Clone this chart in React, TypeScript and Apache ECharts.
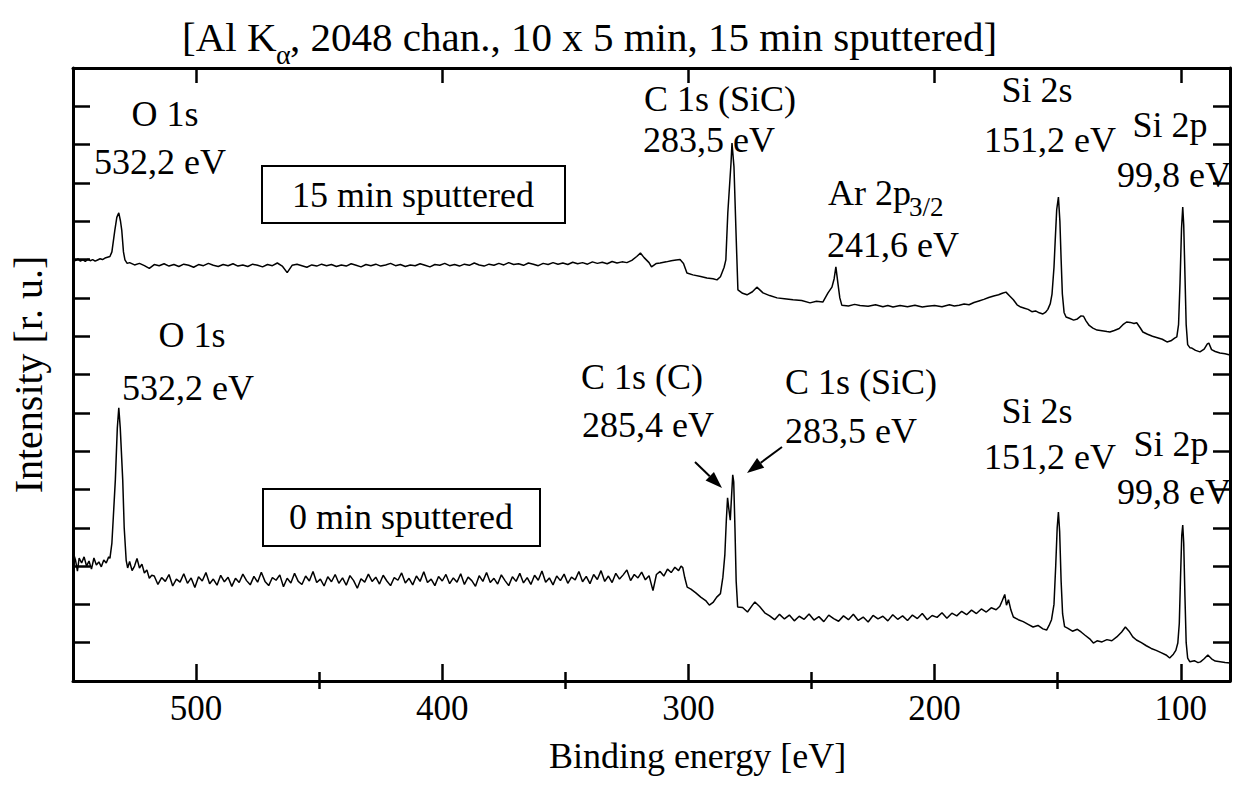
import React, { useEffect, useRef } from "react";
import * as echarts from "echarts";

// Binding energy [eV], intensity [r. u.] (one unit = one y tick)
const sputtered15: [number, number][] = [
  [550, 11.04], [549, 10.97], [548, 11.02], [547, 10.96], [546, 11.0], [545, 10.95], [544, 11.01], [543, 10.97],
  [542, 11.0], [541, 10.96], [540, 10.99], [539, 11.02], [538, 11.0], [537, 11.04], [536, 11.06], [535, 11.08],
  [534.2, 11.2], [533, 11.77], [532.2, 12.1], [531.4, 12.22], [530.7, 12.0], [530.2, 11.77], [529.5, 11.2], [528.9, 10.99],
  [528, 10.9], [527, 10.92], [525, 10.86], [523, 10.9], [521, 10.84], [519, 10.77], [517, 10.87], [515, 10.84],
  [513, 10.89], [511, 10.83], [509, 10.87], [507, 10.82], [505, 10.88], [503, 10.85], [501, 10.8], [499, 10.87],
  [497, 10.84], [495, 10.9], [493, 10.85], [491, 10.82], [489, 10.87], [487, 10.84], [485, 10.89], [483, 10.83],
  [481, 10.86], [479, 10.82], [477, 10.88], [475, 10.85], [473, 10.81], [471, 10.87], [469, 10.84], [467, 10.91],
  [465, 10.83], [463, 10.66], [461, 10.85], [459, 10.88], [457, 10.84], [455, 10.8], [453, 10.86], [451, 10.83],
  [449, 10.88], [447, 10.84], [445, 10.87], [443, 10.82], [441, 10.86], [439, 10.83], [437, 10.89], [435, 10.85],
  [433, 10.81], [431, 10.87], [429, 10.84], [427, 10.88], [425, 10.83], [423, 10.86], [421, 10.9], [419, 10.84],
  [417, 10.87], [415, 10.82], [413, 10.86], [411, 10.84], [409, 10.89], [407, 10.85], [405, 10.81], [403, 10.87],
  [401, 10.85], [399, 10.9], [397, 10.84], [395, 10.87], [393, 10.83], [391, 10.88], [389, 10.85], [387, 10.91],
  [385, 10.86], [383, 10.83], [381, 10.88], [379, 10.85], [377, 10.9], [375, 10.86], [373, 10.92], [371, 10.87],
  [369, 10.89], [367, 10.85], [365, 10.91], [363, 10.88], [361, 10.84], [359, 10.9], [357, 10.87], [355, 10.92],
  [353, 10.88], [351, 10.91], [349, 10.87], [347, 10.93], [345, 10.89], [343, 10.92], [341, 10.88], [339, 10.94],
  [337, 10.9], [335, 10.93], [333, 10.89], [331, 10.95], [329, 10.91], [327, 10.94], [325, 10.92], [323, 10.98],
  [321, 11.08], [319.5, 11.17], [318, 11.05], [316, 10.92], [315, 10.81], [313, 10.9], [311.5, 10.91], [309, 10.94],
  [307, 10.97], [305, 10.99], [303.4, 11.0], [302, 10.9], [300.6, 10.65], [298.2, 10.6], [295, 10.56], [292.5, 10.52],
  [290, 10.5], [288.4, 10.47], [287, 10.55], [286.4, 10.65], [285.5, 10.8], [284.8, 10.99], [284, 12.22], [282.7, 13.52],
  [282.3, 14.04], [281.5, 13.42], [280.7, 11.77], [279.9, 10.21], [278, 10.12], [276.2, 10.08], [274, 10.16], [272.2, 10.28],
  [269.7, 10.13], [267, 10.06], [264, 10.0], [261, 9.98], [257.5, 9.95], [254, 9.93], [250.6, 9.87], [248, 9.91],
  [245.4, 9.89], [243.3, 10.13], [241.7, 10.28], [240.8, 10.5], [240.1, 10.81], [239.3, 10.39], [238.5, 10.0], [237.7, 9.81],
  [235, 9.79], [232.5, 9.83], [230.3, 9.8], [227, 9.78], [224, 9.82], [221, 9.77], [219, 9.8], [216.9, 9.76],
  [214, 9.8], [211, 9.77], [208, 9.81], [205, 9.76], [203, 9.78], [200, 9.8], [197, 9.77], [194, 9.82],
  [192, 9.79], [190, 9.81], [188, 9.84], [186, 9.82], [184, 9.88], [182, 9.92], [180, 9.96], [178, 10.01],
  [176, 10.05], [174, 10.08], [172.5, 10.12], [171, 10.15], [169.5, 10.05], [168, 9.95], [166.5, 9.82], [165, 9.76],
  [163.5, 9.73], [162, 9.7], [160.5, 9.64], [159, 9.66], [157.5, 9.61], [156, 9.58], [155, 9.62], [154, 9.7],
  [153, 9.85], [152.3, 10.1], [151.5, 10.8], [151, 11.5], [150.4, 12.3], [149.7, 12.63], [149.1, 12.0], [148.6, 11.0],
  [148.1, 10.1], [147.4, 9.62], [146.6, 9.5], [145, 9.46], [143.5, 9.42], [142, 9.45], [140.5, 9.53], [139.5, 9.52],
  [138.5, 9.4], [137.2, 9.28], [135.7, 9.21], [134, 9.16], [132, 9.14], [130, 9.12], [128.8, 9.11], [127, 9.15],
  [125, 9.2], [123.5, 9.3], [122, 9.37], [120.5, 9.36], [119, 9.33], [117.9, 9.35], [116.5, 9.22], [115.4, 9.11],
  [113.5, 9.05], [111.5, 9.0], [109.5, 8.96], [107.5, 8.92], [105.6, 8.85], [104, 8.88], [102.5, 8.95], [101.6, 8.98],
  [100.9, 9.3], [100.3, 10.4], [99.7, 11.8], [99.2, 12.37], [98.8, 11.9], [98.3, 10.6], [97.8, 9.3], [97.2, 8.78],
  [96.3, 8.7], [95.5, 8.69], [94, 8.63], [92.2, 8.59], [90.5, 8.66], [89.2, 8.8], [88.6, 8.82], [87.5, 8.65],
  [86, 8.6], [84.1, 8.56], [82, 8.54], [80, 8.51],
];

const sputtered0: [number, number][] = [
  [550, 3.37], [549, 3.16], [548.2, 2.87], [547.5, 3.21], [546.5, 3.08], [545.5, 3.24], [544.5, 3.0], [543.5, 3.13],
  [542.5, 2.92], [541.5, 3.21], [540.5, 3.03], [539.5, 3.11], [538.5, 2.98], [537.5, 3.16], [536.5, 3.08], [535.5, 3.24],
  [535, 3.2], [534.2, 3.6], [533.6, 4.3], [532.8, 5.25], [532, 6.6], [531.4, 7.13], [530.8, 6.6], [529.8, 5.25],
  [529.2, 4.0], [528.4, 3.15], [527.8, 2.95], [527, 3.12], [526, 2.88], [525, 3.0], [524, 3.2], [523, 2.95],
  [522, 3.05], [521, 2.82], [520, 2.9], [519, 2.68], [518, 2.76],
  [517, 2.74], [515.5, 2.52], [514, 2.7], [512.5, 2.6], [511, 2.78], [509.5, 2.48], [508, 2.66], [506.5, 2.58],
  [505, 2.8], [503.5, 2.55], [502, 2.69], [500.5, 2.44], [499, 2.72], [497.5, 2.61], [496, 2.83], [494.5, 2.54],
  [493, 2.66], [491.5, 2.5], [490, 2.76], [488.5, 2.59], [487, 2.71], [485.5, 2.47], [484, 2.68], [482.5, 2.57],
  [481, 2.79], [479.5, 2.62], [478, 2.51], [476.5, 2.73], [475, 2.58], [473.5, 2.84], [472, 2.6], [470.5, 2.49],
  [469, 2.7], [467.5, 2.63], [466, 2.77], [464.5, 2.46], [463, 2.68], [461.5, 2.56], [460, 2.81], [458.5, 2.6],
  [457, 2.52], [455.5, 2.74], [454, 2.61], [452.5, 2.86], [451, 2.57], [449.5, 2.66], [448, 2.48], [446.5, 2.72],
  [445, 2.59], [443.5, 2.78], [442, 2.55], [440.5, 2.69], [439, 2.5], [437.5, 2.75], [436, 2.62], [434.5, 2.42],
  [433, 2.67], [431.5, 2.58], [430, 2.79], [428.5, 2.6], [427, 2.71], [425.5, 2.53], [424, 2.76], [422.5, 2.61],
  [421, 2.49], [419.5, 2.7], [418, 2.63], [416.5, 2.82], [415, 2.56], [413.5, 2.68], [412, 2.51], [410.5, 2.74],
  [409, 2.6], [407.5, 2.85], [406, 2.57], [404.5, 2.66], [403, 2.49], [401.5, 2.73], [400, 2.61], [398.5, 2.78],
  [397, 2.54], [395.5, 2.69], [394, 2.58], [392.5, 2.8], [391, 2.52], [389.5, 2.71], [388, 2.62], [386.5, 2.47],
  [385, 2.75], [383.5, 2.6], [382, 2.83], [380.5, 2.57], [379, 2.68], [377.5, 2.53], [376, 2.77], [374.5, 2.62],
  [373, 2.49], [371.5, 2.72], [370, 2.6], [368.5, 2.81], [367, 2.56], [365.5, 2.7], [364, 2.52], [362.5, 2.76],
  [361, 2.63], [359.5, 2.87], [358, 2.58], [356.5, 2.69], [355, 2.51], [353.5, 2.74], [352, 2.62], [350.5, 2.79],
  [349, 2.55], [347.5, 2.71], [346, 2.64], [344.5, 2.86], [343, 2.59], [341.5, 2.73], [340, 2.54], [338.5, 2.78],
  [337, 2.65], [335.5, 2.88], [334, 2.6], [332.5, 2.74], [331, 2.57], [329.5, 2.81], [328, 2.66], [326.5, 2.77],
  [325, 2.9], [323.5, 2.62], [322, 2.78], [320.5, 2.69], [319, 2.84], [317.5, 2.64], [316, 2.75], [314.4, 2.36],
  [313, 2.78], [311.5, 2.86], [310, 2.74], [308.5, 2.92], [307, 2.83], [305.5, 2.97], [304, 2.88], [303, 3.0],
  [302.3, 2.96], [301.5, 2.7], [300.5, 2.45], [299, 2.4], [297, 2.3], [295, 2.19], [293, 2.1],
  [291.5, 1.98], [290, 2.05], [288.5, 2.19], [287, 2.28], [286, 2.71], [285.2, 3.3], [284.6, 4.2], [284.1, 4.78],
  [283.6, 4.5], [283.0, 4.2], [282.5, 4.8], [282.0, 5.38], [281.6, 5.2], [281.1, 4.0], [280.6, 2.6], [280, 1.93],
  [278, 1.92], [276, 1.8], [274, 1.98], [273, 2.06], [271, 1.94], [269, 1.78], [267, 1.7], [265, 1.6],
  [263, 1.74], [261, 1.62], [259, 1.72], [257, 1.57], [255, 1.69], [253, 1.61], [251, 1.75], [249, 1.59],
  [247, 1.68], [245, 1.55], [243, 1.72], [241, 1.63], [239, 1.56], [237, 1.7], [235, 1.6], [233, 1.74],
  [231, 1.58], [229, 1.67], [227, 1.54], [225, 1.71], [223, 1.62], [221, 1.69], [219, 1.57], [217, 1.73],
  [215, 1.61], [213, 1.7], [211, 1.58], [209, 1.72], [207, 1.63], [205, 1.76], [203, 1.6], [201, 1.71],
  [199, 1.66], [197, 1.78], [195, 1.64], [193, 1.77], [191, 1.7], [189, 1.82], [187, 1.73], [185, 1.85],
  [183, 1.76], [181, 1.88], [179, 1.8], [177, 1.91], [175, 1.86], [173.5, 1.95], [172.5, 2.1], [171.5, 2.26],
  [170.8, 1.98], [170, 2.12], [169, 1.85], [168, 1.67], [166, 1.6], [164, 1.55], [162, 1.48], [160, 1.41],
  [158, 1.45], [156, 1.36], [154.5, 1.33], [153.5, 1.45], [152.5, 1.6], [151.5, 2.0], [150.8, 3.0], [150.2, 4.0],
  [149.7, 4.41], [149.2, 3.9], [148.6, 2.6], [148, 1.75], [147.2, 1.42], [146, 1.38], [144, 1.3], [142, 1.35],
  [140.5, 1.28], [139, 1.2], [137, 1.1], [135.5, 0.99], [134, 1.05], [132, 1.02], [130, 1.08], [128, 1.05],
  [126, 1.15], [124, 1.28], [122.5, 1.41], [121, 1.3], [119.5, 1.15], [118, 1.07], [116, 1.0], [114, 0.92],
  [112, 0.85], [110, 0.8], [108, 0.74], [106, 0.68], [104.5, 0.6], [103, 0.7], [102, 0.8], [101.2, 0.99],
  [100.6, 1.5], [100.1, 2.7], [99.6, 3.8], [99.2, 4.07], [98.8, 3.6], [98.3, 2.2], [97.8, 1.0], [97.2, 0.6],
  [96.3, 0.5], [94.5, 0.53], [93, 0.48], [92, 0.5], [90.5, 0.58], [89, 0.68], [87.5, 0.58], [86, 0.52],
  [84, 0.5], [82, 0.48], [80, 0.47],
];

const majorTicks = [100, 200, 300, 400, 500];
const minorTicks = [150, 250, 350, 450];
const xRange = [80, 550];
const yRange = [0, 16];

const titleParts = ["[Al K", "α", ", 2048 chan., 10 x 5 min, 15 min sputtered]"];
const sampleLabels = ["15 min sputtered", "0 min sputtered"];
const peakLabels = [
  "O 1s", "532,2 eV", "C 1s (SiC)", "283,5 eV", "Ar 2p", "3/2", "241,6 eV", "Si 2s", "151,2 eV", "Si 2p", "99,8 eV",
  "O 1s", "532,2 eV", "C 1s (C)", "285,4 eV", "C 1s (SiC)", "283,5 eV", "Si 2s", "151,2 eV", "Si 2p", "99,8 eV",
];

// layout (pixels) of the annotations, same order as peakLabels
const peakLabelPos: [number, number, string, number][] = [
  [165, 114, "center", 36], [160, 162, "center", 36], [720, 99, "center", 36], [709, 140, "center", 36],
  [828, 193, "left", 36], [909, 207, "left", 27], [893, 245, "center", 36], [1037, 90, "center", 36],
  [1116, 140, "right", 36], [1170, 125, "center", 36], [1231, 175, "right", 36],
  [192, 335, "center", 36], [188, 388, "center", 36], [642, 377, "center", 36], [648, 425, "center", 36],
  [861, 382, "center", 36], [851, 431, "center", 36], [1037, 411, "center", 36], [1116, 457, "right", 36],
  [1171, 444, "center", 36], [1231, 492, "right", 36],
];

const FONT = "Liberation Serif, Times New Roman, serif";

function arrow(x1: number, y1: number, x2: number, y2: number) {
  const dx = x2 - x1;
  const dy = y2 - y1;
  const len = Math.sqrt(dx * dx + dy * dy);
  const ux = dx / len;
  const uy = dy / len;
  const hl = 17;
  const hw = 6;
  const bx = x2 - ux * hl;
  const by = y2 - uy * hl;
  return [
    { type: "line", shape: { x1, y1, x2: bx, y2: by }, style: { stroke: "#000", lineWidth: 2 }, z: 10 },
    {
      type: "polygon",
      shape: { points: [[x2, y2], [bx - uy * hw, by + ux * hw], [bx + uy * hw, by - ux * hw]] },
      style: { fill: "#000" },
      z: 10,
    },
  ];
}

export default function App() {
  const ref = useRef<HTMLDivElement>(null);
  useEffect(() => {
    document.body.style.margin = "0";
    const chart = echarts.init(ref.current!, null, { renderer: "svg" });
    const lineStyle = { color: "#000", width: 3 };
    const tickStyle = { color: "#000", width: 2.5 };
    const baseX = {
      type: "value",
      min: xRange[0],
      max: xRange[1],
      inverse: true,
      splitLine: { show: false },
      gridIndex: 0,
    };
    const baseY = {
      type: "value",
      min: yRange[0],
      max: yRange[1],
      interval: 1,
      splitLine: { show: false },
      axisLabel: { show: false },
    };
    const textStyle = (size: number) => ({ fill: "#000", font: `${size}px ${FONT}` });

    const graphics: any[] = [];
    // title
    graphics.push({ type: "text", x: 182, y: 37, style: { ...textStyle(41), text: titleParts[0], textAlign: "left", textVerticalAlign: "middle" } });
    graphics.push({ type: "text", x: 276, y: 54, style: { ...textStyle(28), text: titleParts[1], textAlign: "left", textVerticalAlign: "middle" } });
    graphics.push({ type: "text", x: 290, y: 37, style: { ...textStyle(41), text: titleParts[2], textAlign: "left", textVerticalAlign: "middle" } });
    // sample boxes
    graphics.push({ type: "rect", shape: { x: 262, y: 166, width: 303, height: 57 }, style: { fill: "none", stroke: "#000", lineWidth: 2 }, z: 10 });
    graphics.push({ type: "text", x: 413, y: 195, style: { ...textStyle(36), text: sampleLabels[0], textAlign: "center", textVerticalAlign: "middle" }, z: 10 });
    graphics.push({ type: "rect", shape: { x: 263, y: 489, width: 277, height: 57 }, style: { fill: "none", stroke: "#000", lineWidth: 2 }, z: 10 });
    graphics.push({ type: "text", x: 401, y: 517, style: { ...textStyle(36), text: sampleLabels[1], textAlign: "center", textVerticalAlign: "middle" }, z: 10 });
    peakLabels.forEach((t, i) => {
      const [x, y, align, size] = peakLabelPos[i];
      graphics.push({ type: "text", x, y, style: { ...textStyle(size), text: t, textAlign: align, textVerticalAlign: "middle" }, z: 10 });
    });
    graphics.push(...arrow(695, 462, 722, 488));
    graphics.push(...arrow(782, 447, 747, 473));

    chart.setOption({
      animation: false,
      backgroundColor: "#fff",
      textStyle: { fontFamily: FONT },
      grid: { left: 73, right: 9, top: 68, bottom: 117, containLabel: false },
      xAxis: [
        {
          ...baseX,
          position: "bottom",
          axisLine: { show: true, onZero: false, lineStyle },
          axisTick: { show: true, inside: true, length: 17, lineStyle: tickStyle, customValues: majorTicks },
          axisLabel: { show: true, customValues: majorTicks, fontSize: 35, fontFamily: FONT, color: "#000", margin: 10 },
          name: "Binding energy [eV]",
          nameLocation: "middle",
          nameGap: 57,
          nameTextStyle: { fontSize: 36, fontFamily: FONT, color: "#000", padding: [0, 0, 0, 92] },
        },
        {
          ...baseX,
          position: "bottom",
          axisLine: { show: false },
          axisTick: { show: true, inside: true, length: 9, lineStyle: tickStyle, customValues: minorTicks },
          axisLabel: { show: false },
        },
        {
          ...baseX,
          position: "top",
          axisLine: { show: true, onZero: false, lineStyle },
          axisTick: { show: true, inside: true, length: 15, lineStyle: tickStyle, customValues: majorTicks },
          axisLabel: { show: false },
        },
        {
          ...baseX,
          position: "top",
          axisLine: { show: false },
          axisTick: { show: true, inside: true, length: 8, lineStyle: tickStyle, customValues: minorTicks },
          axisLabel: { show: false },
        },
      ],
      yAxis: [
        {
          ...baseY,
          position: "left",
          axisLine: { show: true, onZero: false, lineStyle },
          axisTick: { show: true, inside: true, length: 17, lineStyle: tickStyle },
          name: "Intensity [r. u.]",
          nameLocation: "middle",
          nameGap: 25,
          nameRotate: 90,
          nameTextStyle: { fontSize: 40, fontFamily: FONT, color: "#000" },
        },
        {
          ...baseY,
          position: "right",
          axisLine: { show: true, onZero: false, lineStyle },
          axisTick: { show: true, inside: true, length: 17, lineStyle: tickStyle },
        },
      ],
      series: [
        {
          name: "15 min sputtered",
          type: "line",
          data: sputtered15,
          showSymbol: false,
          lineStyle: { color: "#000", width: 1.5 },
          xAxisIndex: 0,
          yAxisIndex: 0,
        },
        {
          name: "0 min sputtered",
          type: "line",
          data: sputtered0,
          showSymbol: false,
          lineStyle: { color: "#000", width: 1.5 },
          xAxisIndex: 0,
          yAxisIndex: 0,
        },
      ],
      graphic: graphics,
    });
    return () => chart.dispose();
  }, []);
  return <div ref={ref} style={{ width: 1239, height: 798 }} />;
}
